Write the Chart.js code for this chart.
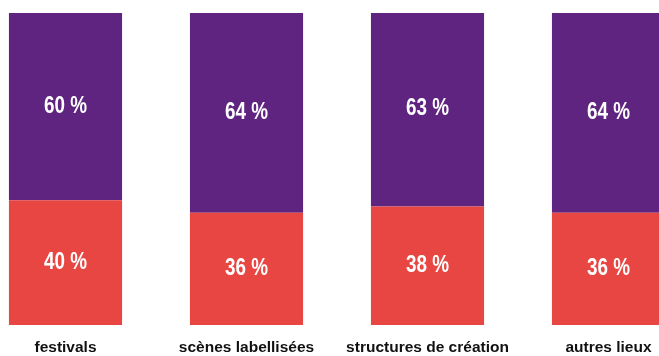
<!DOCTYPE html>
<html>
<head>
<meta charset="utf-8">
<script src="https://cdn.jsdelivr.net/npm/chart.js@4/dist/chart.umd.min.js"></script>
<style>
  html, body { margin: 0; padding: 0; background: #fff; overflow: hidden; }
  #wrap { position: relative; width: 659px; height: 356px; overflow: hidden; }
  #chart { position: absolute; left: -25px; top: 0; }
</style>
</head>
<body>
<div id="wrap"><canvas id="chart" width="724" height="356"></canvas></div>
<script>
// Categories and shares (%)
const categories = ['festivals', 'scènes labellisées', 'structures de création', 'autres lieux'];
const lowerShare = [40, 36, 38, 36];
const upperShare = [60, 64, 63, 64];

const FONT = '"Liberation Sans", Arial, sans-serif';

// Value labels in the middle of each segment, squeezed to look like a narrow face
const segmentLabels = {
    id: 'segmentLabels',
    afterDatasetsDraw(chart) {
        const ctx = chart.ctx;
        chart.data.datasets.forEach((ds, i) => {
            const meta = chart.getDatasetMeta(i);
            meta.data.forEach((bar, j) => {
                const y = (bar.y + bar.base) / 2;
                ctx.save();
                ctx.translate(bar.x, y);
                ctx.scale(0.82, 1);
                ctx.fillStyle = '#ffffff';
                ctx.font = 'bold 23px ' + FONT;
                ctx.textAlign = 'center';
                ctx.textBaseline = 'middle';
                ctx.fillText(ds.data[j] + ' %', 0, 0);
                ctx.restore();
            });
        });
    }
};

new Chart(document.getElementById('chart'), {
    type: 'bar',
    data: {
        labels: categories,
        datasets: [
            { data: lowerShare, backgroundColor: '#e84642' },
            { data: upperShare, backgroundColor: '#5f2480' }
        ]
    },
    options: {
        responsive: false,
        animation: false,
        layout: { padding: { top: 13, left: 0, right: 0, bottom: 0 } },
        datasets: { bar: { barPercentage: 0.625, categoryPercentage: 1, borderWidth: 0 } },
        plugins: {
            legend: { display: false },
            tooltip: { enabled: false }
        },
        scales: {
            x: {
                stacked: true,
                grid: { display: false },
                border: { display: false },
                ticks: {
                    color: '#111',
                    padding: 5,
                    maxRotation: 0,
                    autoSkip: false,
                    font: { family: FONT, size: 15.5, weight: 'bold' }
                },
                afterFit(scale) { scale.height = 31; }
            },
            y: {
                stacked: true,
                display: false,
                min: 0,
                max: 100
            }
        }
    },
    plugins: [segmentLabels]
});
</script>
</body>
</html>
